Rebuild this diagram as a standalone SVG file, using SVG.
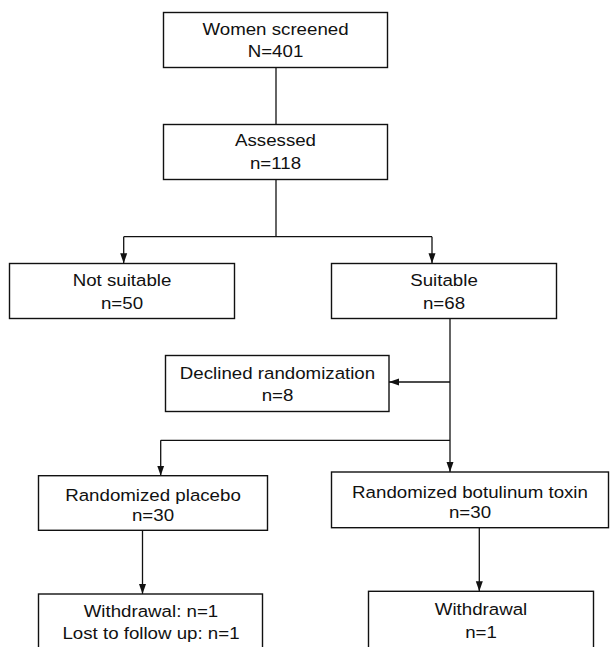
<svg xmlns="http://www.w3.org/2000/svg" width="610" height="647" viewBox="0 0 610 647">
<style>
.box{fill:#fff;stroke:#111;stroke-width:1.4}
.conn{fill:none;stroke:#111;stroke-width:1.3}
text{font-family:"Liberation Sans",Arial,sans-serif;font-size:17px;fill:#111;text-anchor:middle}
</style>
<defs>
<marker id="ah" markerUnits="userSpaceOnUse" markerWidth="10" markerHeight="8" refX="10" refY="4" orient="auto">
<path d="M0,0.5 L10,4 L0,7.5 z" fill="#111"/>
</marker>
</defs>
<rect width="610" height="647" fill="#fff"/>
<g id="connectors">
<line class="conn" x1="276" y1="67.7" x2="276" y2="124.3"/>
<polyline class="conn" points="276,179.3 276,236.7"/>
<line class="conn" x1="123.7" y1="236.7" x2="432" y2="236.7"/>
<line class="conn" x1="123.7" y1="236.7" x2="123.7" y2="263.3" marker-end="url(#ah)"/>
<line class="conn" x1="432" y1="236.7" x2="432" y2="263.3" marker-end="url(#ah)"/>
<line class="conn" x1="450" y1="318.7" x2="450" y2="472" marker-end="url(#ah)"/>
<line class="conn" x1="450" y1="382" x2="389" y2="382" marker-end="url(#ah)"/>
<line class="conn" x1="160.7" y1="440.3" x2="450" y2="440.3"/>
<line class="conn" x1="160.7" y1="440.3" x2="160.7" y2="475.7" marker-end="url(#ah)"/>
<line class="conn" x1="142.5" y1="530.3" x2="142.5" y2="594" marker-end="url(#ah)"/>
<line class="conn" x1="479.3" y1="527.7" x2="479.3" y2="591.3" marker-end="url(#ah)"/>
</g>
<g id="screened">
<rect class="box" x="163.5" y="12.5" width="224" height="55"/>
<text transform="translate(275.5 35) scale(1.1 1)">Women screened</text>
<text transform="translate(275.5 57) scale(1.1 1)">N=401</text>
</g>
<g id="assessed">
<rect class="box" x="163.5" y="124.5" width="224" height="55"/>
<text transform="translate(275.5 146) scale(1.1 1)">Assessed</text>
<text transform="translate(275.5 168.5) scale(1.1 1)">n=118</text>
</g>
<g id="not-suitable">
<rect class="box" x="9.5" y="263.5" width="225" height="55"/>
<text transform="translate(122 286) scale(1.1 1)">Not suitable</text>
<text transform="translate(122 308.5) scale(1.1 1)">n=50</text>
</g>
<g id="suitable">
<rect class="box" x="331.5" y="263.5" width="225" height="55"/>
<text transform="translate(444 286) scale(1.1 1)">Suitable</text>
<text transform="translate(444 308.5) scale(1.1 1)">n=68</text>
</g>
<g id="declined">
<rect class="box" x="165.5" y="355.5" width="223.5" height="56"/>
<text transform="translate(277.5 378.5) scale(1.1 1)">Declined randomization</text>
<text transform="translate(277.5 401) scale(1.1 1)">n=8</text>
</g>
<g id="placebo">
<rect class="box" x="38.5" y="475.7" width="229" height="54.6"/>
<text transform="translate(153 501) scale(1.1 1)">Randomized placebo</text>
<text transform="translate(153 521) scale(1.1 1)">n=30</text>
</g>
<g id="toxin">
<rect class="box" x="331.5" y="472" width="277" height="55.7"/>
<text transform="translate(470 497.7) scale(1.1 1)">Randomized botulinum toxin</text>
<text transform="translate(470 517.7) scale(1.1 1)">n=30</text>
</g>
<g id="withdrawal-placebo">
<rect class="box" x="38.5" y="594" width="224" height="70"/>
<text transform="translate(151 617.3) scale(1.1 1)">Withdrawal: n=1</text>
<text transform="translate(151 639.3) scale(1.1 1)">Lost to follow up: n=1</text>
</g>
<g id="withdrawal-toxin">
<rect class="box" x="368.5" y="591.3" width="225" height="70"/>
<text transform="translate(481 615.3) scale(1.1 1)">Withdrawal</text>
<text transform="translate(481 637.7) scale(1.1 1)">n=1</text>
</g>
</svg>
